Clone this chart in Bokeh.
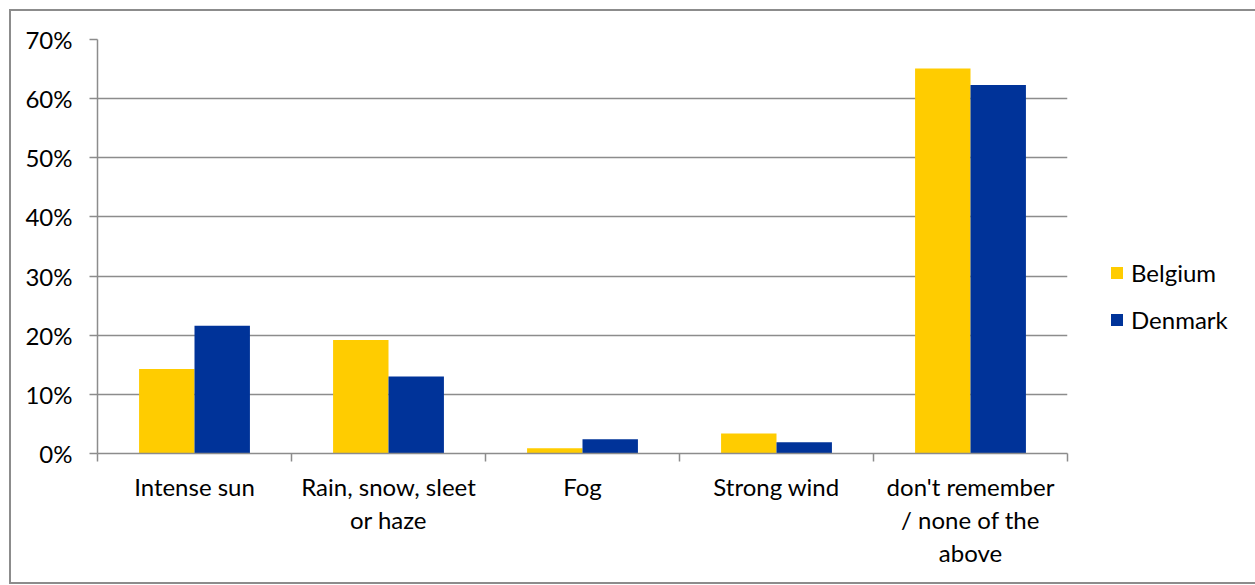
from bokeh.plotting import figure
from bokeh.models import FixedTicker, Legend, LegendItem, Range1d, ColumnDataSource
from bokeh.embed import file_html
from bokeh.resources import INLINE

# ---- data ----
categories = ["Intense sun", "Rain, snow, sleet\nor haze", "Fog", "Strong wind",
              "don't remember\n/ none of the\nabove"]
belgium = [0.143, 0.192, 0.009, 0.034, 0.651]
denmark = [0.216, 0.130, 0.024, 0.019, 0.623]
series_names = ["Belgium", "Denmark"]
y_ticks = [0.0, 0.1, 0.2, 0.3, 0.4, 0.5, 0.6, 0.7]
y_tick_labels = ["0%", "10%", "20%", "30%", "40%", "50%", "60%", "70%"]

colors = ["#FFCC00", "#003399"]
grey = "#8c8c8c"
FONT = "Lato"
FS = "24px"

n = len(categories)
bar_w = 1 / 3.5
centers = [i + 0.5 for i in range(n)]

p = figure(width=1244, height=571, output_backend="svg", toolbar_location=None,
           x_range=Range1d(0, n), y_range=Range1d(0, 0.7),
           min_border_left=86, min_border_top=28, min_border_right=188, min_border_bottom=129)
p.frame_width = 970
p.frame_height = 414
p.outline_line_color = None
p.margin = (9, 0, 0, 9)
p.styles = {"border-left": "2px solid #8c8c8c", "border-top": "2px solid #8c8c8c",
            "border-bottom": "2px solid #8c8c8c"}

renderers = []
for k, (name, vals) in enumerate(zip(series_names, [belgium, denmark])):
    off = (k - 0.5) * bar_w
    src = ColumnDataSource(dict(x=[c + off for c in centers], top=vals))
    r = p.vbar(x="x", top="top", bottom=0, width=bar_w, source=src,
               fill_color=colors[k], line_color=None)
    renderers.append(r)

# grid
p.xgrid.grid_line_color = None
p.ygrid.ticker = FixedTicker(ticks=y_ticks)
p.ygrid.grid_line_color = grey
p.ygrid.grid_line_width = 1.5

# y axis
ya = p.yaxis[0]
ya.ticker = FixedTicker(ticks=y_ticks)
ya.major_label_overrides = {t: l for t, l in zip(y_ticks, y_tick_labels)}
ya.axis_line_color = grey
ya.axis_line_width = 1.5
ya.major_tick_line_color = grey
ya.major_tick_line_width = 1.5
ya.major_tick_out = 8
ya.major_tick_in = 0
ya.minor_tick_line_color = None
ya.major_label_standoff = 17
ya.major_label_text_font = FONT
ya.major_label_text_font_size = FS
ya.major_label_text_color = "#000000"

# x axis
xa = p.xaxis[0]
xa.ticker = FixedTicker(ticks=centers, minor_ticks=list(range(n + 1)))
xa.major_label_overrides = {c: lab for c, lab in zip(centers, categories)}
xa.axis_line_color = grey
xa.axis_line_width = 1.5
xa.major_tick_line_color = None
xa.major_tick_out = 0
xa.major_tick_in = 0
xa.minor_tick_line_color = grey
xa.minor_tick_line_width = 1.5
xa.minor_tick_out = 8
xa.minor_tick_in = 0
xa.major_label_standoff = 10
xa.major_label_text_font = FONT
xa.major_label_text_font_size = FS
xa.major_label_text_color = "#000000"
xa.major_label_text_line_height = 1.14

legend = Legend(items=[LegendItem(label=nm, renderers=[r]) for nm, r in zip(series_names, renderers)],
                location=(42, 119), padding=0, margin=0, spacing=18,
                glyph_width=15, glyph_height=15, label_standoff=7,
                label_text_font=FONT, label_text_font_size=FS, label_text_color="#000000",
                border_line_color=None, background_fill_alpha=0)
p.add_layout(legend, "right")

open("out.html", "w").write(file_html(p, INLINE))
